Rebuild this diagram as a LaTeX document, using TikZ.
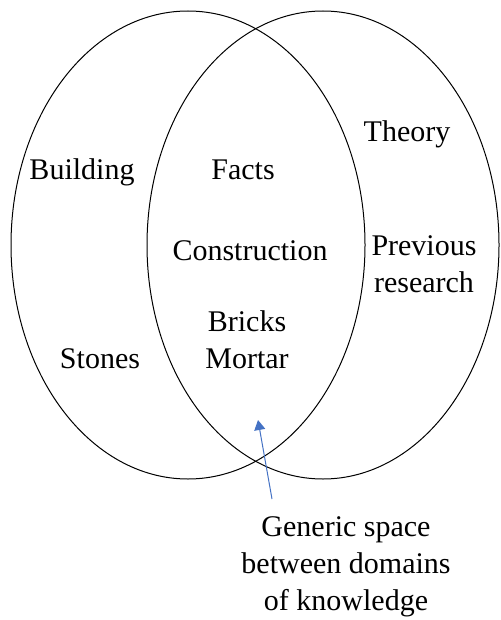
\documentclass[tikz,border=0pt]{standalone}
\usepackage{fontspec}
\setmainfont{Liberation Serif}
\usetikzlibrary{arrows.meta}
\definecolor{pointer}{HTML}{4472C4}
\begin{document}
\begin{tikzpicture}[x=0.5pt,y=-0.5pt,
  vennset/.style={draw=black,line width=0.5pt},
  lbl/.style={inner sep=0pt,anchor=base,align=center,font=\fontsize{15}{18.4}\selectfont},
  pointerline/.style={draw=pointer,line width=0.5pt,-{Triangle[length=5pt,width=5.5pt]}}]
  \useasboundingbox (0,0) rectangle (500,620);
  % two overlapping knowledge domains
  \draw[vennset] (188,245) ellipse [x radius=88.5pt, y radius=117pt];
  \draw[vennset] (323,245) ellipse [x radius=88pt, y radius=117pt];
  % left domain
  \node[lbl] (building) at (82,180) {Building};
  \node[lbl] (stones) at (100,368) {Stones};
  % shared region (base anchor sits on the last line)
  \node[lbl] (facts) at (243,180) {Facts};
  \node[lbl] (construction) at (250,260) {Construction};
  \node[lbl] (bricks) at (247,368) {Bricks\\Mortar};
  % right domain
  \node[lbl] (theory) at (407,142) {Theory};
  \node[lbl] (previous) at (424,292) {Previous\\research};
  % caption and pointer into the overlap
  \node[lbl] (generic) at (346,610) {Generic space\\between domains\\of knowledge};
  \coordinate (tail) at (272,499);
  \coordinate (tip) at (258,420);
  \draw[pointerline] (tail) -- (tip);
\end{tikzpicture}
\end{document}
